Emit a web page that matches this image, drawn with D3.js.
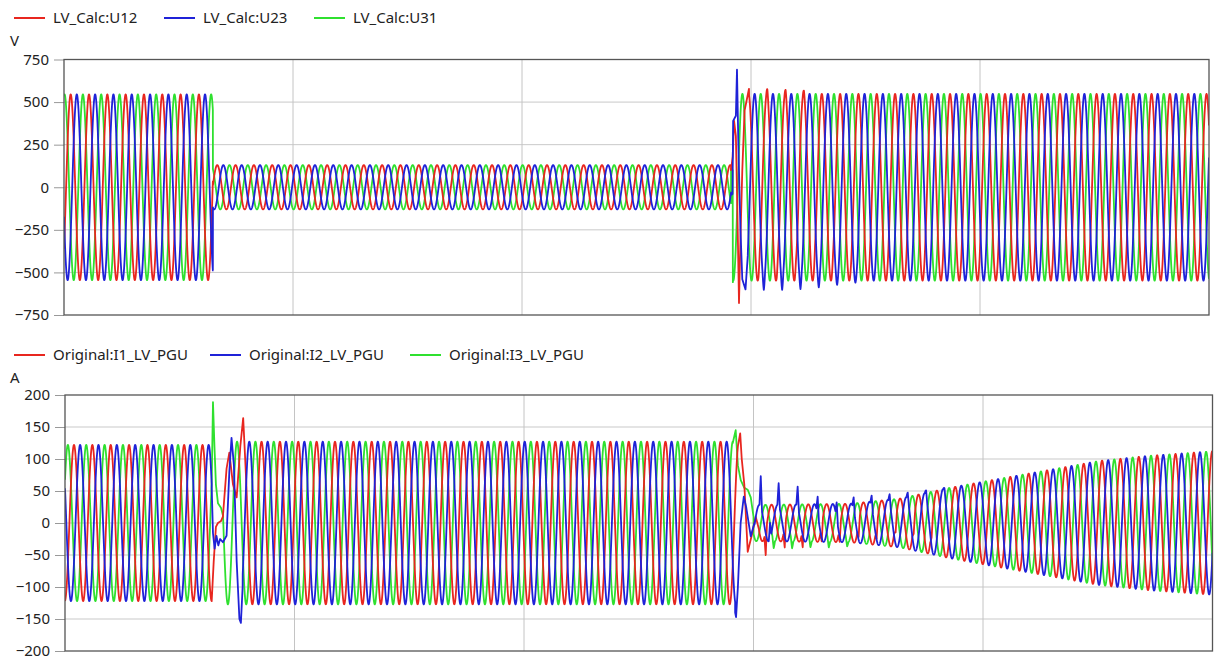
<!DOCTYPE html>
<html>
<head>
<meta charset="utf-8">
<script src="https://cdn.jsdelivr.net/npm/d3@7"></script>
<style>
body { margin: 0; background: #fff; }
svg { display: block; font-family: "Noto Sans", sans-serif; }
</style>
</head>
<body>
<svg width="1214" height="659"></svg>
<script>
// ---- shared ----
const period = 0.02;                 // 50 Hz
const timeDomain = [0, 1.25];
const gridTimes = [0.25, 0.5, 0.75, 1.0];
const phaseColors = ["#e8261f", "#1f22d8", "#2fe02f"];

// ---- voltage panel ----
const voltageNames = ["LV_Calc:U12", "LV_Calc:U23", "LV_Calc:U31"];
const voltageTicks = [750, 500, 250, 0, -250, -500, -750];
// [time, peak amplitude]
const voltageEnvelope = [[0, 545], [0.1625, 545], [0.1625, 130], [0.7295, 130], [0.7295, 548], [1.25, 548]];
// [segment start, time of a U12 peak]
const voltagePeaks = [[0, 0.0073]];
const u12Transient = [[0.7282, 100], [0.7300, 180], [0.7315, 390], [0.7335, 300], [0.7350, -100], [0.7369, -680], [0.7385, -300], [0.7405, 100], [0.7430, 450], [0.7478, 578]];
const u23Transient = [[0.7282, -45], [0.7298, -40], [0.7305, 390], [0.7335, 420], [0.7347, 690], [0.7362, 250], [0.7385, -250], [0.7405, -540], [0.7440, -600], [0.7465, -400]];
const u31Transient = [[0.7282, 110], [0.7300, 100], [0.7302, -557]];
// [time, extra value] narrow spikes
const u12Spikes = [[0.7678, 35], [0.7878, 30], [0.8078, 25], [0.7596, 40], [0.7795, 40], [0.7991, 35], [0.8199, 30], [0.8395, 25]];
const u23Spikes = [[0.7640, -55], [0.7840, -55], [0.8040, -50], [0.8240, -40], [0.8440, -25], [0.8640, -12]];
const u31Spikes = [];

// ---- current panel ----
const currentNames = ["Original:I1_LV_PGU", "Original:I2_LV_PGU", "Original:I3_LV_PGU"];
const currentTicks = [200, 150, 100, 50, 0, -50, -100, -150, -200];
const currentEnvelope = [[0, 122], [0.1605, 122], [0.1605, 127], [0.7345, 127], [0.7345, 28], [0.855, 30], [0.909, 38],
  [0.964, 55], [1.002, 65], [1.0725, 83], [1.127, 97], [1.181, 105], [1.25, 112]];
const currentPeaks = [[0, 0.0098], [0.1605, 0.0141], [0.7345, 0.0097]];
const i1Transient = [[0.1598, -122], [0.1620, -60], [0.1644, -6], [0.1666, 0], [0.1699, 3], [0.1720, 10], [0.1760, 85],
  [0.1790, 110], [0.1830, 60], [0.1870, 40], [0.1910, 120], [0.1941, 164], [0.1965, 93]];
const i2Transient = [[0.1598, 55], [0.1612, -16], [0.1630, -40], [0.1650, -20], [0.1670, -35], [0.1690, -25], [0.1720, -30],
  [0.1760, -20], [0.1790, 80], [0.1814, 133], [0.1840, 90], [0.1870, -60], [0.1900, -150], [0.1916, -156], [0.1935, -100]];
const i3Transient = [[0.1598, 63], [0.1612, 189], [0.1628, 120], [0.1644, 60], [0.1666, 31], [0.1699, 24], [0.1720, 12]];
const i1Recovery = [[0.7330, 120], [0.7355, 140], [0.7372, 100], [0.7400, 60], [0.7437, -45], [0.7480, -20], [0.7524, 10], [0.7560, -10]];
const i2Recovery = [[0.7300, -140], [0.7310, -147], [0.7330, -100], [0.7360, 0], [0.7394, 41], [0.7420, 25], [0.7470, -21], [0.7510, 0]];
const i3Recovery = [[0.7274, 125], [0.7306, 145], [0.7330, 90], [0.7361, 67], [0.7400, 55], [0.7437, 52], [0.7470, 40], [0.7500, 10]];
const i1Spikes = [[0.7633, -38], [0.7840, -32], [0.8036, -28], [0.8243, -25], [0.8439, -22], [0.8645, -20], [0.8841, -18],
  [0.9048, -16], [0.9245, -14], [0.9440, -12], [0.9640, -8]];
const i2Spikes = [[0.7579, 48], [0.7680, 25], [0.7774, 35], [0.7981, 32], [0.8199, 28], [0.8406, 25], [0.8591, 20], [0.8787, 18],
  [0.8983, 15], [0.9180, 12], [0.9380, 10], [0.9580, 8]];
const i3Spikes = [[0.7720, -12], [0.7920, -12], [0.8120, -10], [0.8320, -10], [0.8520, -8]];

const svg = d3.select("svg");

function envelopeAt(env, t) {
    for (let i = 1; i < env.length; i++) {
        const [t0, a0] = env[i - 1], [t1, a1] = env[i];
        if (t >= t0 && t <= t1) {
            if (t1 === t0) return a1;
            return a0 + (a1 - a0) * (t - t0) / (t1 - t0);
        }
    }
    return env[env.length - 1][1];
}

function peakAt(peaks, t) {
    let p = peaks[0][1];
    peaks.forEach(d => { if (t >= d[0]) p = d[1]; });
    return p;
}

// builds the sampled trace of one phase; transient windows are taken as given points
function trace(env, peaks, lag, windows, spikes) {
    const pts = [];
    const step = 0.0001;
    const base = t => {
        let v = envelopeAt(env, t) * Math.cos(2 * Math.PI * (t - peakAt(peaks, t) - lag) / period);
        spikes.forEach(([ts, dv]) => {
            const w = 0.0014, d = Math.abs(t - ts);
            if (d < w) v += dv * (1 - d / w);
        });
        return v;
    };
    let t = timeDomain[0];
    const wins = windows.filter(w => w.length).sort((a, b) => a[0][0] - b[0][0]);
    let wi = 0;
    while (t <= timeDomain[1] + 1e-9) {
        if (wi < wins.length && t >= wins[wi][0][0]) {
            wins[wi].forEach(p => pts.push(p));
            t = wins[wi][wins[wi].length - 1][0] + step;
            wi++;
            continue;
        }
        pts.push([t, base(t)]);
        t += step;
    }
    return pts;
}

function panel(cfg) {
    const x = d3.scaleLinear().domain(timeDomain).range([cfg.left, cfg.right]);
    const y = d3.scaleLinear().domain([cfg.ticks[cfg.ticks.length - 1], cfg.ticks[0]]).range([cfg.bottom, cfg.top]);
    const g = svg.append("g");

    // legend
    const leg = g.selectAll(".legend")
        .data(cfg.names)
        .enter()
        .append("g")
        .attr("class", "legend")
        .attr("transform", (d, i) => `translate(${cfg.legendX[i]},${cfg.legendY})`);
    leg.append("line")
        .attr("x1", 0).attr("x2", 31)
        .attr("stroke", (d, i) => phaseColors[i])
        .attr("stroke-width", 2);
    leg.append("text")
        .attr("x", 39)
        .attr("dy", "0.35em")
        .attr("font-size", 15)
        .attr("fill", "#222")
        .text(d => d);

    g.append("text")
        .attr("x", 10).attr("y", cfg.unitY)
        .attr("dy", "0.35em")
        .attr("font-size", 15)
        .attr("fill", "#222")
        .text(cfg.unit);

    // grid
    g.append("g")
        .selectAll("line")
        .data(cfg.ticks.slice(1, -1))
        .enter()
        .append("line")
        .attr("x1", cfg.left).attr("x2", cfg.right)
        .attr("y1", d => y(d)).attr("y2", d => y(d))
        .attr("stroke", "#c9c9c9");
    g.append("g")
        .selectAll("line")
        .data(gridTimes)
        .enter()
        .append("line")
        .attr("x1", d => x(d)).attr("x2", d => x(d))
        .attr("y1", cfg.top).attr("y2", cfg.bottom)
        .attr("stroke", "#c4c4c4");

    // y axis
    const axis = g.append("g")
        .attr("transform", `translate(${cfg.left},0)`)
        .call(d3.axisLeft(y).tickValues(cfg.ticks).tickSize(10).tickPadding(5));
    axis.select(".domain").remove();
    axis.selectAll(".tick line").attr("stroke", "#999");
    axis.selectAll(".tick text")
        .attr("font-size", 15)
        .attr("font-family", "Noto Sans, sans-serif")
        .attr("fill", "#222");

    // traces
    const clipId = "clip" + cfg.unit;
    g.append("clipPath").attr("id", clipId)
        .append("rect")
        .attr("x", cfg.left).attr("y", cfg.top)
        .attr("width", cfg.right - cfg.left).attr("height", cfg.bottom - cfg.top);
    const line = d3.line().x(d => x(d[0])).y(d => y(d[1]));
    const lags = [0, period / 3, -period / 3];
    const traces = [0, 1, 2].map(i => trace(cfg.envelope, cfg.peaks, lags[i], cfg.windows[i], cfg.spikes[i]));
    g.append("g")
        .attr("clip-path", `url(#${clipId})`)
        .selectAll("path")
        .data(cfg.order)
        .enter()
        .append("path")
        .attr("d", i => line(traces[i]))
        .attr("fill", "none")
        .attr("stroke", i => phaseColors[i])
        .attr("stroke-width", 1.8)
        .attr("stroke-linejoin", "round");

    // frame
    g.append("rect")
        .attr("x", cfg.left).attr("y", cfg.top)
        .attr("width", cfg.right - cfg.left).attr("height", cfg.bottom - cfg.top)
        .attr("fill", "none")
        .attr("stroke", "#555")
        .attr("stroke-width", 1.3);
}

panel({
    names: voltageNames, ticks: voltageTicks, unit: "V",
    left: 64, right: 1209, top: 59.5, bottom: 315,
    legendX: [14, 164, 314], legendY: 18, unitY: 41,
    envelope: voltageEnvelope, peaks: voltagePeaks,
    windows: [[u12Transient], [u23Transient], [u31Transient]],
    spikes: [u12Spikes, u23Spikes, u31Spikes],
    order: [2, 0, 1]
});

panel({
    names: currentNames, ticks: currentTicks, unit: "A",
    left: 65, right: 1212.5, top: 395, bottom: 651,
    legendX: [14, 210, 410], legendY: 355, unitY: 378,
    envelope: currentEnvelope, peaks: currentPeaks,
    windows: [[i1Transient, i1Recovery], [i2Transient, i2Recovery], [i3Transient, i3Recovery]],
    spikes: [i1Spikes, i2Spikes, i3Spikes],
    order: [2, 0, 1]
});
</script>
</body>
</html>
